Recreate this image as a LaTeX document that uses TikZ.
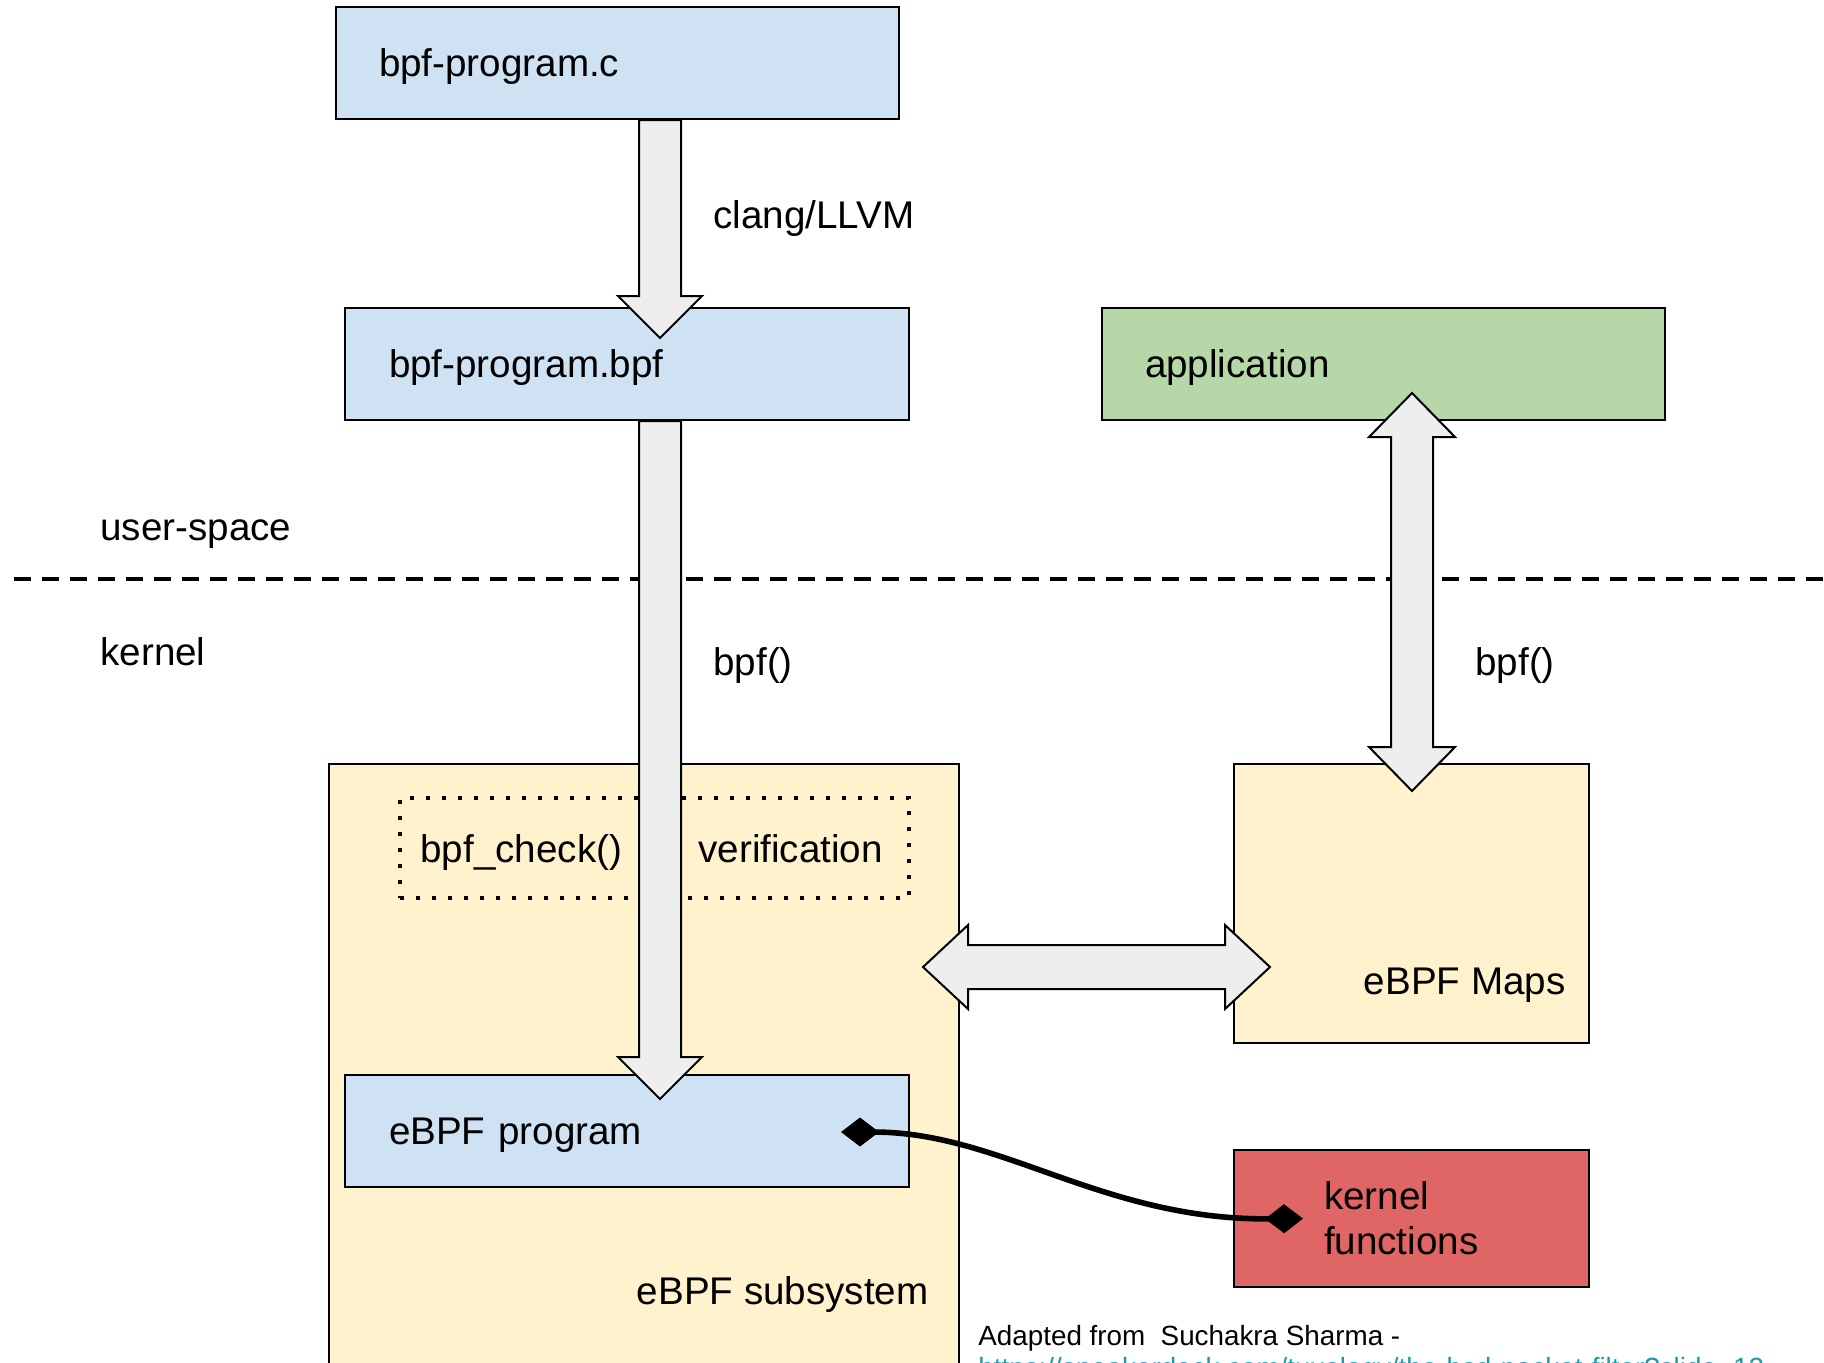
\documentclass[tikz,border=0pt]{standalone}
\usepackage{fontspec}
\setmainfont{Liberation Sans}
\usetikzlibrary{calc,arrows.meta}
\definecolor{bluebox}{HTML}{CFE2F3}
\definecolor{greenbox}{HTML}{B6D7A8}
\definecolor{yellowbox}{HTML}{FFF2CC}
\definecolor{redbox}{HTML}{E06666}
\definecolor{arrowfill}{HTML}{EEEEEE}
\definecolor{linkc}{HTML}{1A9BAA}
\newcommand\mfont{\fontsize{19.3pt}{22.5pt}\selectfont}
\newcommand\sfont{\fontsize{13.9pt}{16pt}\selectfont}
\begin{document}
\begin{tikzpicture}[x=0.5pt,y=-0.5pt,
  box/.style={draw=black, line width=1pt, rectangle, inner ysep=0pt, align=left, font=\mfont},
  onebox/.style={box, text height=13.5pt, text depth=0pt, minimum height=56pt},
  lbl/.style={inner sep=0pt, font=\mfont},
  blk/.style={draw=black, line width=1pt, fill=arrowfill, line join=miter},
  downarrow/.style={to path={
     ($(\tikztostart)+(-21,0)$) -- ($(\tikztotarget)+(-21,-42)$) -- ($(\tikztotarget)+(-42,-42)$)
     -- (\tikztotarget) -- ($(\tikztotarget)+(42,-42)$) -- ($(\tikztotarget)+(21,-42)$)
     -- ($(\tikztostart)+(21,0)$) -- cycle}},
  vdouble/.style={to path={
     (\tikztostart) -- ($(\tikztostart)+(43,44)$) -- ($(\tikztostart)+(21,44)$)
     -- ($(\tikztotarget)+(21,-44)$) -- ($(\tikztotarget)+(43,-44)$) -- (\tikztotarget)
     -- ($(\tikztotarget)+(-43,-44)$) -- ($(\tikztotarget)+(-21,-44)$)
     -- ($(\tikztostart)+(-21,44)$) -- ($(\tikztostart)+(-43,44)$) -- cycle}},
  hdouble/.style={to path={
     (\tikztostart) -- ($(\tikztostart)+(45,-42)$) -- ($(\tikztostart)+(45,-22)$)
     -- ($(\tikztotarget)+(-45,-22)$) -- ($(\tikztotarget)+(-45,-42)$) -- (\tikztotarget)
     -- ($(\tikztotarget)+(-45,42)$) -- ($(\tikztotarget)+(-45,22)$)
     -- ($(\tikztostart)+(45,22)$) -- ($(\tikztostart)+(45,42)$) -- cycle}},
  conn/.style={line width=2.8pt, {Diamond[length=19pt,width=14.5pt,line width=0.5pt]}-{Diamond[length=19pt,width=14.5pt,line width=0.5pt]}}
]
\useasboundingbox[fill=white] (0,0) rectangle (1824,1362);

% large background boxes
\node[box, fill=yellowbox, minimum width=315pt, minimum height=328pt] (sub) at (644,1092) {};
\node[box, fill=yellowbox, minimum width=177.5pt, minimum height=139.5pt] (maps) at (1411.5,903.5) {};
\node[box, fill=redbox, minimum width=177.5pt, minimum height=68.5pt, inner xsep=45pt, text width=87.5pt] (kf) at (1411.5,1218.5) {kernel\\functions};

% separator
\coordinate (sepL) at (14,579);
\coordinate (sepR) at (1824,579);
\draw[line width=2pt, dash pattern=on 8.5pt off 5.5pt] (sepL) -- (sepR);

% user-space boxes
\node[onebox, fill=bluebox, minimum width=281.5pt, inner xsep=21.5pt, text width=238.5pt] (src) at (617.5,63) {bpf-program.c};
\node[onebox, fill=bluebox, minimum width=282pt, inner xsep=22pt, text width=238pt] (obj) at (627,364) {bpf-program.bpf};
\node[onebox, fill=greenbox, minimum width=281.5pt, inner xsep=21.5pt, text width=238.5pt] (app) at (1383.5,364) {application};

% labels
\node[lbl, anchor=base west] (clang) at (713,228) {clang/LLVM};
\node[lbl, anchor=base west] (us) at (100,540) {user-space};
\node[lbl, anchor=base west] (kern) at (100,665) {kernel};
\node[lbl, anchor=base west] (bpf1) at (713,675) {bpf()};
\node[lbl, anchor=base west] (bpf2) at (1475,675) {bpf()};

% verifier box
\node[draw=black, line width=2pt, dash pattern=on 2pt off 6pt, minimum width=254.5pt, minimum height=50pt, inner sep=0pt] (chk) at (654.5,848) {};
\node[lbl, anchor=base west] (chkl) at (420,862) {bpf\_check()};
\node[lbl, anchor=base west] (ver) at (698,862) {verification};

% eBPF program
\node[onebox, fill=bluebox, minimum width=282pt, inner xsep=22pt, text width=238pt] (prog) at (627,1131) {eBPF program};

\node[lbl, anchor=base east] (mapsl) at (1566,994) {eBPF Maps};
\node[lbl, anchor=base east] (subl) at (929,1304) {eBPF subsystem};

% footnote
\node[inner sep=0pt, anchor=base west, align=left, font=\sfont] (note) at (978,1377)
  {Adapted from\ \ Suchakra Sharma -\\\textcolor{linkc}{https://speakerdeck.com/tuxology/the-bsd-packet-filter?slide=12}};

% block arrows
\coordinate (col1) at (660,0);
\coordinate (col2) at (1412,0);
\coordinate (row1) at (0,967);
\coordinate (a1s) at (src.south -| col1);
\coordinate (a1e) at ($(obj.north -| col1)+(0,31)$);
\coordinate (a2s) at (obj.south -| col1);
\coordinate (a2e) at ($(prog.north -| col1)+(0,25)$);
\coordinate (a3s) at ($(app.south -| col2)+(0,-28)$);
\coordinate (a3e) at ($(maps.north -| col2)+(0,28)$);
\coordinate (a4s) at ($(sub.east |- row1)+(-37,0)$);
\coordinate (a4e) at ($(maps.west |- row1)+(37,0)$);

\draw[blk] (a1s) to[downarrow] (a1e);
\draw[blk] (a2s) to[downarrow] (a2e);
\draw[blk] (a3s) to[vdouble] (a3e);
\draw[blk] (a4s) to[hdouble] (a4e);

% call connector
\coordinate (d1) at ($(prog.east)+(-69,1)$);
\coordinate (d2) at ($(kf.west)+(70,0)$);
\draw[conn] (d1) .. controls ($(d1)+(160,0)$) and ($(d2)+(-200,2)$) .. (d2);
\end{tikzpicture}
\end{document}
